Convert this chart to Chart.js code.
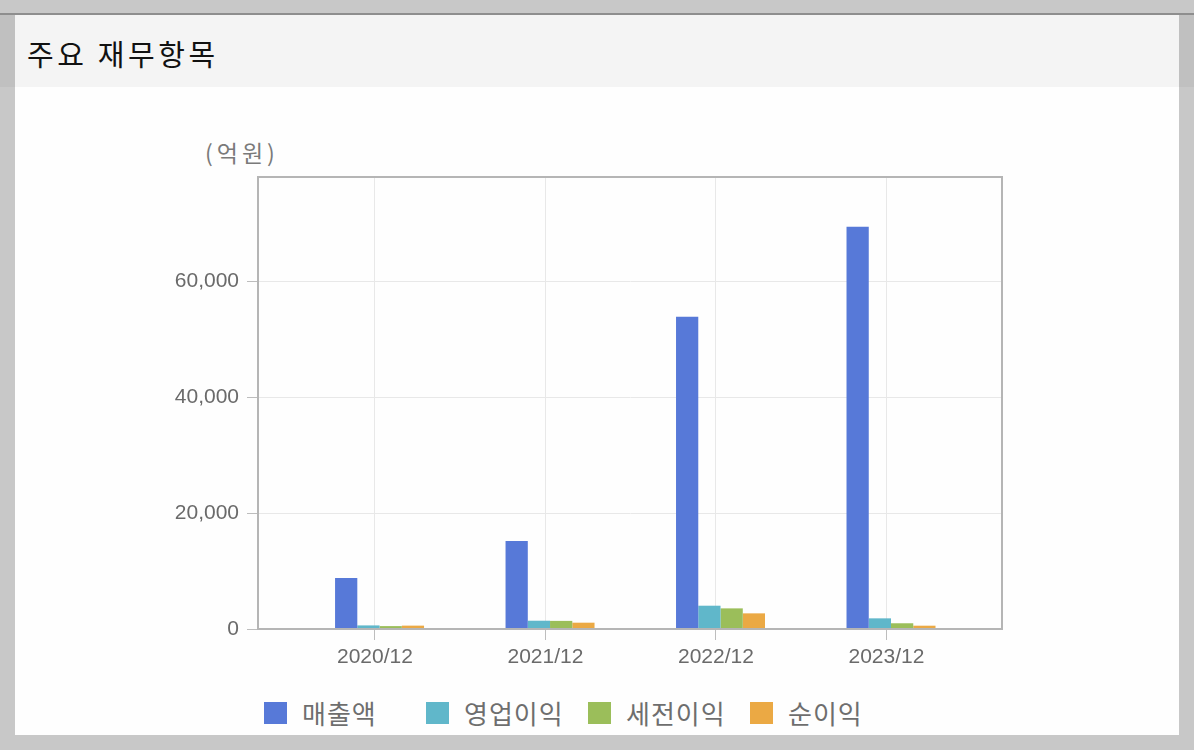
<!DOCTYPE html>
<html>
<head>
<meta charset="utf-8">
<script src="https://cdn.jsdelivr.net/npm/chart.js@4.4.1/dist/chart.umd.min.js"></script>
<style>
  body { margin: 0; width: 1194px; height: 750px; background: #c8c8c8; position: relative; overflow: hidden; font-family: "Noto Sans CJK KR", sans-serif; }
  .abs { position: absolute; }
  #topline { left: 0; top: 13px; width: 1194px; height: 2px; background: #8e8e8e; }
  #sideL { left: 0; top: 15px; width: 15px; height: 72px; background: #c0c0c0; }
  #sideR { left: 1179px; top: 15px; width: 15px; height: 72px; background: #c0c0c0; }
  #panel { left: 15px; top: 15px; width: 1164px; height: 720px; background: #fefefe; }
  #head { left: 15px; top: 15px; width: 1164px; height: 72px; background: #f4f4f4; }
  #title { left: 27px; top: 38px; font-size: 29px; line-height: 30px; color: #111; letter-spacing: 3.6px; }
  #unit { left: 205px; top: 139px; font-size: 23px; line-height: 26px; color: #7a7a7a; letter-spacing: 4px; }
  #wrap { left: 150px; top: 160px; width: 880px; height: 520px; }
  #legend { left: 264px; top: 698px; display: flex; }
  .item { width: 162px; display: flex; align-items: center; height: 30px; }
  .box { width: 23px; height: 22px; margin-right: 15px; }
  .lbl { font-size: 26px; color: #6e6e6e; line-height: 30px; letter-spacing: 1px; }
</style>
</head>
<body>
<div id="topline" class="abs"></div>
<div id="panel" class="abs"></div>
<div id="head" class="abs"></div>
<div id="sideL" class="abs"></div>
<div id="sideR" class="abs"></div>
<div id="title" class="abs">주요 재무항목</div>
<div id="unit" class="abs">(억원)</div>
<div id="wrap" class="abs"><canvas id="financeChart" width="880" height="520"></canvas></div>
<div id="legend" class="abs"></div>
<script>
const periods = ['2020/12', '2021/12', '2022/12', '2023/12'];
const seriesNames = ['매출액', '영업이익', '세전이익', '순이익'];
const seriesColors = ['#5779d8', '#60b7ca', '#9bbe5a', '#eba944'];
const revenue = [8800, 15200, 53900, 69400];
const operatingProfit = [620, 1430, 4020, 1840];
const pretaxProfit = [500, 1400, 3560, 990];
const netProfit = [580, 1090, 2700, 570];
const yTicks = [0, 20000, 40000, 60000];

const seriesValues = [revenue, operatingProfit, pretaxProfit, netProfit];

// the category ticks sit a little left of the bar groups in the original
const tickShift = -0.027;

// frame round the plot area
const frame = {
    id: 'frame',
    afterDraw(chart) {
        const a = chart.chartArea;
        const ctx = chart.ctx;
        ctx.save();
        ctx.strokeStyle = '#b5b5b5';
        ctx.lineWidth = 2;
        ctx.strokeRect(a.left, a.top, a.right - a.left, a.bottom - a.top);
        ctx.restore();
    }
};

const tickFont = { family: '"Liberation Sans", "Noto Sans CJK KR", sans-serif', size: 21 };

const ctx = document.getElementById('financeChart').getContext('2d');
const chart = new Chart(ctx, {
    type: 'bar',
    data: {
        labels: periods.map((p, i) => i),
        datasets: seriesNames.map((name, i) => ({
            label: name,
            data: seriesValues[i],
            backgroundColor: seriesColors[i],
            borderWidth: 0,
            categoryPercentage: 0.522,
            barPercentage: 1.0
        }))
    },
    options: {
        responsive: false,
        animation: false,
        layout: { padding: { top: 17, right: 28, left: 0, bottom: 0 } },
        plugins: { legend: { display: false }, tooltip: { enabled: false } },
        scales: {
            x: {
                type: 'linear',
                min: -0.713,
                max: 3.651,
                offset: false,
                grid: { offset: false, color: '#e8e8e8', tickColor: '#bdbdbd', tickLength: 11 },
                border: { color: '#b5b5b5', width: 2 },
                afterBuildTicks: s => { s.ticks = periods.map((p, i) => ({ value: i + tickShift })); },
                afterFit: s => { s.height = 51; s.paddingLeft = 0; s.paddingRight = 0; },
                ticks: {
                    includeBounds: false,
                    autoSkip: false,
                    maxRotation: 0,
                    padding: 5,
                    color: '#6a6a6a',
                    font: tickFont,
                    callback: v => periods[Math.round(v)]
                }
            },
            y: {
                min: 0,
                max: 78000,
                grid: { color: '#e8e8e8', tickColor: '#bdbdbd', tickLength: 11 },
                border: { color: '#b5b5b5', width: 2 },
                afterBuildTicks: s => { s.ticks = yTicks.map(v => ({ value: v })); },
                afterFit: s => { s.width = 108; s.paddingTop = 0; s.paddingBottom = 0; },
                ticks: {
                    padding: 8,
                    color: '#6a6a6a',
                    font: tickFont,
                    callback: v => Number(v).toLocaleString('en-US')
                }
            }
        }
    },
    plugins: [frame]
});

// legend with fixed-width items
const legend = document.getElementById('legend');
chart.data.datasets.forEach(ds => {
    const item = document.createElement('div');
    item.className = 'item';
    item.innerHTML = `<div class="box" style="background:${ds.backgroundColor}"></div><span class="lbl">${ds.label}</span>`;
    legend.appendChild(item);
});
</script>
</body>
</html>
